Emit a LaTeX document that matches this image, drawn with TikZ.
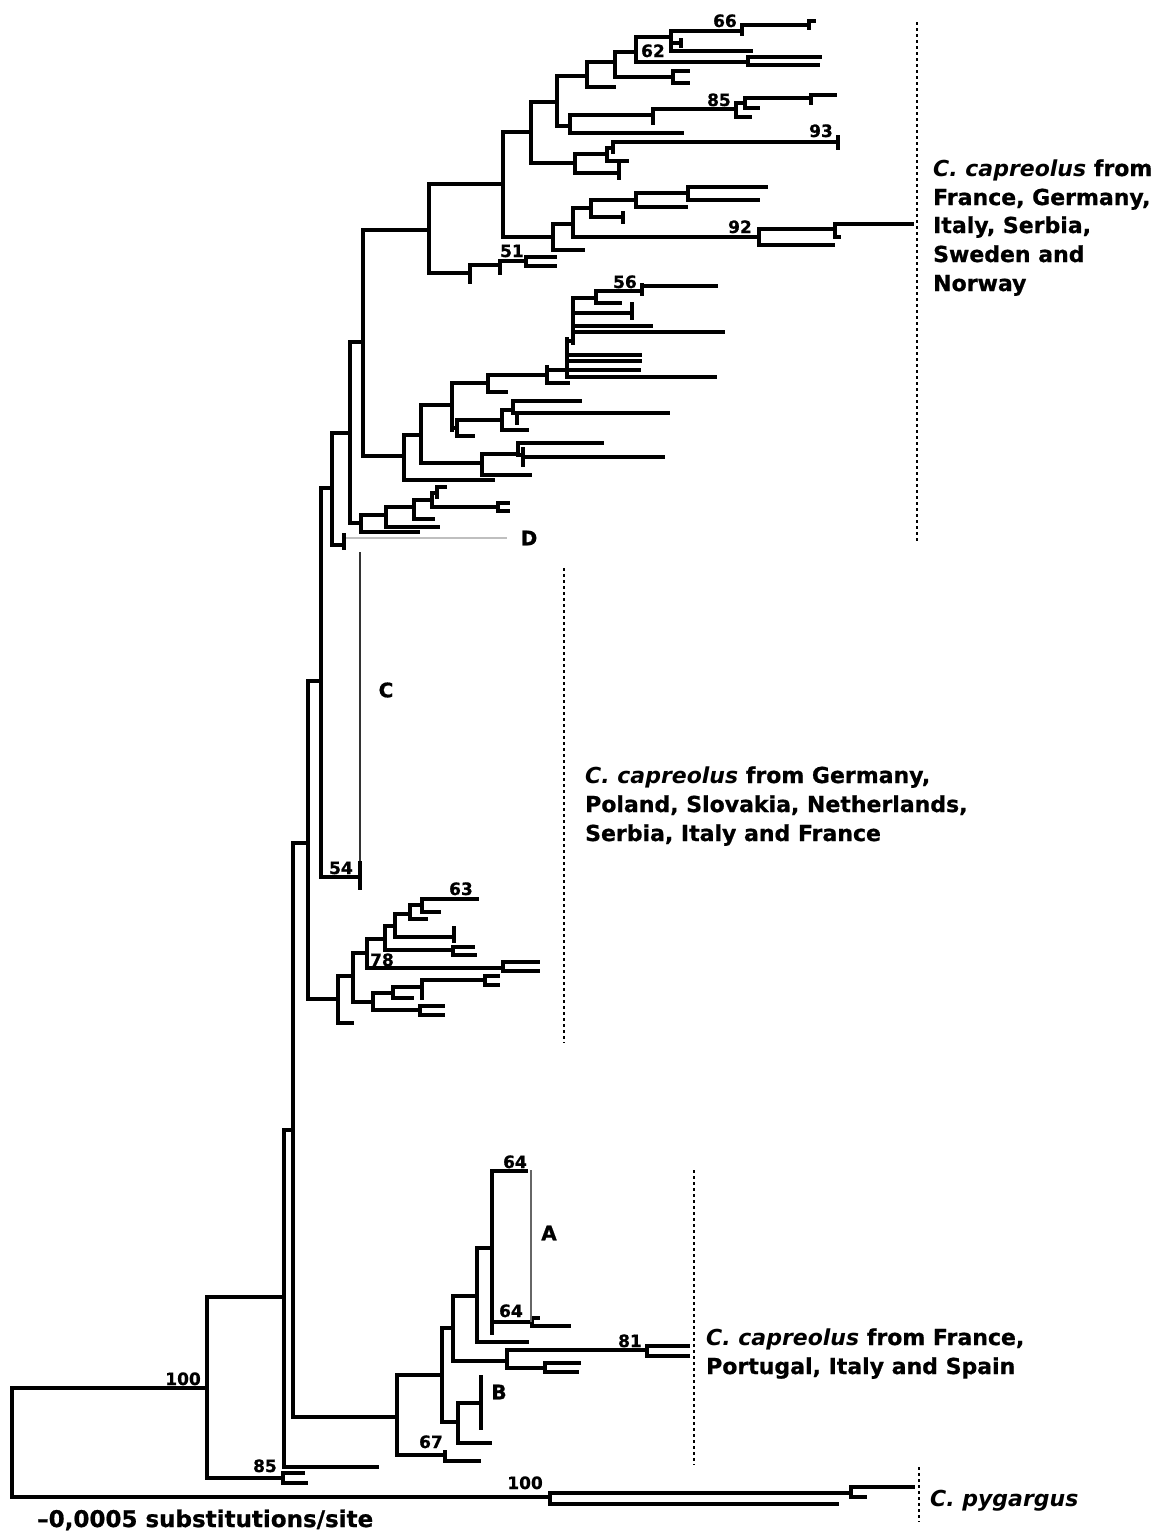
\documentclass[tikz,border=0pt]{standalone}
\usepackage{fontspec}
\setmainfont{DejaVu Sans}[BoldFeatures={FakeBold=0.8}]
\newcommand\Vs[3]{\draw[tr] (#1,#2) -- (#1,#3);}
\newcommand\Hs[3]{\draw[tr] (#2,#1) -- (#3,#1);}
\tikzset{
  tr/.style={line width=3.2pt, line cap=rect, black},
  dots/.style={line width=2.4pt, dash pattern=on 3pt off 3pt, black},
  num/.style={font=\fontsize{17}{17}\selectfont\bfseries, inner sep=0pt, anchor=base east},
  lab/.style={font=\fontsize{22}{22}\selectfont\bfseries, inner sep=0pt, anchor=base west},
  cl/.style={font=\fontsize{20}{20}\selectfont\bfseries, inner sep=0pt},
}
\begin{document}
\begin{tikzpicture}[x=1pt,y=-1pt]
\useasboundingbox (0,0) rectangle (1159,1532);
\fill[white] (0,0) rectangle (1159,1532);
% root and outgroup
\Vs{12}{1388}{1497}
\Hs{1388}{12}{207}
\Hs{1497}{12}{550}
\Vs{550}{1493}{1504}\Hs{1493}{550}{851}\Hs{1504}{550}{837}
\Vs{851}{1487}{1497}\Hs{1487}{851}{913}\Hs{1497}{851}{865}
% ingroup
\Vs{207}{1297}{1478}\Hs{1297}{207}{284}\Hs{1478}{207}{283}
\Vs{283}{1473}{1483}\Hs{1473}{283}{303}\Hs{1483}{283}{306}
\Vs{284}{1130}{1467}\Hs{1467}{284}{377}\Hs{1130}{284}{293}
\Vs{293}{843}{1417}\Hs{1417}{293}{397}\Hs{843}{293}{308}
\Vs{308}{681}{999}\Hs{681}{308}{321}\Hs{999}{308}{338}
\Vs{321}{488}{877}\Hs{488}{321}{332}\Hs{877}{321}{360}
% C
\draw[line width=1.5pt, black!80] (360,552) -- (360,870);
\Vs{360}{863}{888}
% D part
\Vs{332}{433}{545}\Hs{433}{332}{350}\Hs{545}{332}{344}
\Vs{344}{535}{548}
\draw[line width=2pt, black!25] (346,538) -- (507,538);
\Vs{350}{342}{523}\Hs{342}{350}{363}\Hs{523}{350}{361}
\Vs{361}{515}{532}\Hs{515}{361}{386}\Hs{532}{361}{418}
\Vs{386}{507}{527}\Hs{507}{386}{414}\Hs{527}{386}{438}
\Vs{414}{500}{519}\Hs{500}{414}{432}\Hs{519}{414}{433}
\Vs{432}{493}{507}\Hs{507}{432}{498}\Hs{493}{432}{437}
\Vs{437}{487}{497}\Hs{487}{437}{445}
\Vs{498}{503}{511}\Hs{503}{498}{508}\Hs{511}{498}{508}
% middle clade
\Vs{363}{230}{456}\Hs{230}{363}{429}\Hs{456}{363}{404}
\Vs{404}{435}{480}\Hs{435}{404}{421}\Hs{480}{404}{493}
\Vs{421}{405}{463}\Hs{405}{421}{452}\Hs{463}{421}{482}
\Vs{482}{454}{475}\Hs{454}{482}{518}\Hs{475}{482}{530}
\Vs{518}{443}{455}\Hs{443}{518}{602}\Hs{455}{518}{523}
\Vs{523}{449}{465}\Hs{457}{523}{663}
\Vs{452}{383}{430}\Hs{383}{452}{488}\Hs{428}{452}{457}
\Vs{457}{420}{436}\Hs{420}{457}{502}\Hs{436}{457}{473}
\Vs{502}{410}{430}\Hs{410}{502}{513}\Hs{430}{502}{527}
\Vs{513}{401}{413}\Hs{401}{513}{580}\Hs{413}{513}{668}
\Vs{517}{413}{423}
\Vs{488}{375}{392}\Hs{375}{488}{547}\Hs{392}{488}{506}
\Vs{547}{367}{383}\Hs{370}{547}{567}\Hs{383}{547}{568}
\Vs{567}{339}{377}
\Hs{355}{567}{640}\Hs{361}{567}{640}\Hs{370}{567}{639}\Hs{377}{567}{715}\Hs{341}{567}{573}
\Vs{573}{298}{343}\Hs{298}{573}{596}\Hs{313}{573}{632}\Hs{326}{573}{651}\Hs{332}{573}{723}
\Vs{632}{304}{318}
\Vs{596}{291}{303}\Hs{291}{596}{642}\Hs{303}{596}{620}
\Vs{642}{285}{294}\Hs{286}{642}{716}
% top clade
\Vs{429}{184}{273}\Hs{184}{429}{503}\Hs{273}{429}{470}
\Vs{470}{265}{282}\Hs{265}{470}{500}
\Vs{500}{261}{273}\Hs{261}{500}{526}
\Vs{526}{257}{266}\Hs{257}{526}{555}\Hs{266}{526}{555}
\Vs{503}{132}{237}\Hs{132}{503}{531}\Hs{237}{503}{553}
\Vs{553}{224}{250}\Hs{224}{553}{573}\Hs{250}{553}{583}
\Vs{573}{208}{237}\Hs{237}{573}{759}\Hs{208}{573}{591}
\Vs{759}{229}{245}\Hs{229}{759}{835}\Hs{245}{759}{833}
\Vs{835}{224}{237}\Hs{224}{835}{912}\Hs{237}{835}{839}
\Vs{591}{200}{217}\Hs{200}{591}{636}\Hs{217}{591}{623}
\Vs{623}{213}{222}
\Vs{636}{193}{207}\Hs{193}{636}{688}\Hs{207}{636}{686}
\Vs{688}{187}{200}\Hs{187}{688}{766}\Hs{200}{688}{758}
\Vs{531}{102}{163}\Hs{102}{531}{557}\Hs{163}{531}{575}
\Vs{575}{154}{173}\Hs{154}{575}{607}\Hs{173}{575}{619}
\Vs{619}{165}{178}
\Vs{607}{148}{161}\Hs{148}{607}{613}\Hs{161}{607}{627}
\Vs{613}{142}{152}\Hs{142}{613}{838}
\Vs{838}{137}{148}
\Vs{557}{76}{126}\Hs{76}{557}{587}\Hs{126}{557}{570}
\Vs{570}{115}{133}\Hs{115}{570}{653}\Hs{133}{570}{682}
\Vs{653}{109}{123}\Hs{109}{653}{736}
\Vs{736}{103}{117}\Hs{103}{736}{745}\Hs{117}{736}{750}
\Vs{745}{98}{108}\Hs{98}{745}{811}\Hs{108}{745}{758}
\Vs{811}{95}{103}\Hs{95}{811}{835}
\Vs{587}{62}{87}\Hs{62}{587}{615}\Hs{87}{587}{614}
\Vs{615}{52}{77}\Hs{52}{615}{636}\Hs{77}{615}{673}
\Vs{673}{71}{83}\Hs{71}{673}{688}\Hs{83}{673}{688}
\Vs{636}{37}{62}\Hs{37}{636}{671}\Hs{62}{636}{748}
\Vs{748}{57}{65}\Hs{57}{748}{820}\Hs{65}{748}{818}
\Vs{671}{31}{51}\Hs{31}{671}{742}\Hs{43}{671}{681}\Hs{51}{671}{751}
\Vs{681}{40}{46}
\Vs{742}{25}{34}\Hs{25}{742}{809}
\Vs{809}{21}{28}\Hs{21}{809}{814}
% 78 clade
\Vs{338}{976}{1023}\Hs{976}{338}{353}\Hs{1023}{338}{352}
\Vs{353}{953}{1002}\Hs{953}{353}{367}\Hs{1002}{353}{373}
\Vs{373}{993}{1010}\Hs{993}{373}{393}\Hs{1010}{373}{420}
\Vs{420}{1006}{1015}\Hs{1006}{420}{443}\Hs{1015}{420}{443}
\Vs{393}{987}{998}\Hs{987}{393}{422}\Hs{998}{393}{412}
\Vs{422}{980}{998}\Hs{980}{422}{485}
\Vs{485}{976}{985}\Hs{976}{485}{498}\Hs{985}{485}{498}
\Vs{367}{939}{968}\Hs{939}{367}{385}\Hs{968}{367}{503}
\Vs{503}{962}{971}\Hs{962}{503}{538}\Hs{971}{503}{538}
\Vs{385}{926}{950}\Hs{926}{385}{395}\Hs{950}{385}{453}
\Vs{453}{947}{955}\Hs{947}{453}{473}\Hs{955}{453}{475}
\Vs{395}{914}{937}\Hs{914}{395}{410}\Hs{937}{395}{454}
\Vs{454}{928}{941}
\Vs{410}{905}{919}\Hs{905}{410}{422}\Hs{919}{410}{426}
\Vs{422}{899}{912}\Hs{899}{422}{477}\Hs{912}{422}{439}
% A/B clade
\Vs{397}{1375}{1455}\Hs{1375}{397}{442}\Hs{1455}{397}{445}
\Vs{445}{1452}{1461}\Hs{1461}{445}{479}
\Vs{442}{1328}{1422}\Hs{1328}{442}{453}\Hs{1422}{442}{458}
\Vs{458}{1403}{1443}\Hs{1403}{458}{481}\Hs{1443}{458}{490}
\Vs{481}{1377}{1428}
\Vs{453}{1296}{1361}\Hs{1296}{453}{477}\Hs{1361}{453}{507}
\Vs{507}{1350}{1368}\Hs{1350}{507}{647}\Hs{1368}{507}{545}
\Vs{545}{1363}{1372}\Hs{1363}{545}{579}\Hs{1372}{545}{577}
\Vs{647}{1346}{1356}\Hs{1346}{647}{688}\Hs{1356}{647}{688}
\Vs{477}{1248}{1342}\Hs{1248}{477}{492}\Hs{1342}{477}{527}
\Vs{492}{1171}{1333}\Hs{1171}{492}{526}\Hs{1322}{492}{532}
\Vs{532}{1318}{1326}\Hs{1318}{532}{538}\Hs{1326}{532}{569}
\draw[line width=1.5pt, black!60] (531,1170) -- (531,1322);
% dotted lines
\draw[dots] (917,22) -- (917,543);
\draw[dots] (564,568) -- (564,1043);
\draw[dots] (694,1170) -- (694,1465);
\draw[dots] (919,1467) -- (919,1522);
% support values
\node[num] (s66) at (737,27) {66};
\node[num] (s62) at (665,57) {62};
\node[num] (s85a) at (731,106) {85};
\node[num] (s93) at (833,137) {93};
\node[num] (s92) at (752,233) {92};
\node[num] (s51) at (524,257) {51};
\node[num] (s56) at (637,288) {56};
\node[num] (s54) at (353,874) {54};
\node[num] (s63) at (473,895) {63};
\node[num] (s78) at (394,966) {78};
\node[num] (s64a) at (527,1168) {64};
\node[num] (s64b) at (523,1317) {64};
\node[num] (s81) at (642,1347) {81};
\node[num] (s67) at (443,1448) {67};
\node[num] (s100a) at (201,1385) {100};
\node[num] (s85b) at (277,1472) {85};
\node[num] (s100b) at (543,1489) {100};
% clade letters
\node[cl] (lD) at (529,538) {D};
\node[cl] (lC) at (386,690) {C};
\node[cl] (lA) at (549,1233) {A};
\node[cl] (lB) at (499,1392) {B};
% group labels
\node[lab] (t1) at (933,176) {\itshape C. capreolus\upshape\ from};
\node[lab] (t2) at (933,205) {France, Germany,};
\node[lab] (t3) at (933,233) {Italy, Serbia,};
\node[lab] (t4) at (933,262) {Sweden and};
\node[lab] (t5) at (933,291) {Norway};
\node[lab] (m1) at (585,783) {\itshape C. capreolus\upshape\ from Germany,};
\node[lab] (m2) at (585,812) {Poland, Slovakia, Netherlands,};
\node[lab] (m3) at (585,841) {Serbia, Italy and France};
\node[lab] (b1) at (706,1345) {\itshape C. capreolus\upshape\ from France,};
\node[lab] (b2) at (706,1374) {Portugal, Italy and Spain};
\node[lab] (pg) at (930,1506) {\itshape C. pygargus};
\node[lab, font=\fontsize{23}{23}\selectfont\bfseries] (sc) at (37,1527) {–0,0005 substitutions/site};
\end{tikzpicture}
\end{document}
